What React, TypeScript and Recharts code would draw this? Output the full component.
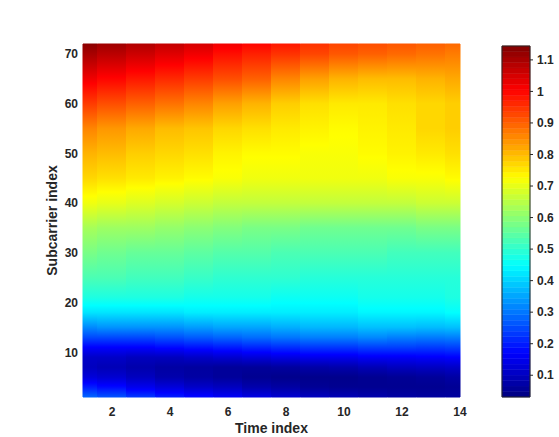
import React from 'react';
import { ComposedChart, XAxis, YAxis, ReferenceArea, Label } from 'recharts';

// Time index (x) and subcarrier rows (y) at which values were read
const timeIndex = [1, 2, 3, 4, 5, 6, 7, 8, 9, 10, 11, 12, 13, 14];
const subcarriers = [1, 3, 5, 7, 9, 11, 13, 15, 18, 21, 25, 30, 35, 40, 45, 50, 55, 60, 65, 70, 72];

// Values per time index, listed bottom (subcarrier 1) to top (subcarrier 72)
const t1 = [0.28, 0.2, 0.13, 0.1, 0.11, 0.17, 0.25, 0.32, 0.42, 0.48, 0.53, 0.58, 0.63, 0.71, 0.77, 0.81, 0.86, 0.94, 1.02, 1.1, 1.13];
const t2 = [0.26, 0.18, 0.12, 0.09, 0.11, 0.17, 0.25, 0.33, 0.42, 0.48, 0.53, 0.57, 0.62, 0.7, 0.76, 0.8, 0.84, 0.92, 1.0, 1.08, 1.11];
const t3 = [0.23, 0.15, 0.1, 0.08, 0.1, 0.17, 0.25, 0.33, 0.42, 0.48, 0.52, 0.56, 0.62, 0.69, 0.75, 0.78, 0.82, 0.9, 0.98, 1.06, 1.09];
const t4 = [0.2, 0.13, 0.08, 0.07, 0.1, 0.18, 0.26, 0.33, 0.42, 0.48, 0.52, 0.56, 0.61, 0.68, 0.74, 0.77, 0.8, 0.88, 0.96, 1.04, 1.07];
const t5 = [0.18, 0.11, 0.07, 0.065, 0.11, 0.19, 0.27, 0.34, 0.43, 0.47, 0.51, 0.55, 0.6, 0.67, 0.73, 0.76, 0.79, 0.86, 0.94, 1.02, 1.05];
const t6 = [0.16, 0.1, 0.06, 0.06, 0.12, 0.2, 0.28, 0.35, 0.43, 0.47, 0.5, 0.54, 0.59, 0.66, 0.72, 0.74, 0.77, 0.83, 0.92, 0.99, 1.02];
const t7 = [0.14, 0.08, 0.05, 0.06, 0.13, 0.21, 0.29, 0.35, 0.43, 0.47, 0.5, 0.54, 0.58, 0.66, 0.71, 0.73, 0.76, 0.81, 0.9, 0.97, 1.0];
const t8 = [0.12, 0.07, 0.045, 0.065, 0.14, 0.22, 0.3, 0.36, 0.43, 0.46, 0.5, 0.53, 0.58, 0.66, 0.71, 0.73, 0.75, 0.78, 0.86, 0.95, 0.98];
const t9 = [0.1, 0.055, 0.045, 0.075, 0.15, 0.23, 0.31, 0.37, 0.43, 0.46, 0.49, 0.53, 0.57, 0.66, 0.71, 0.72, 0.74, 0.76, 0.83, 0.93, 0.95];
const t10 = [0.09, 0.05, 0.045, 0.08, 0.15, 0.23, 0.31, 0.37, 0.43, 0.46, 0.49, 0.53, 0.57, 0.66, 0.71, 0.72, 0.73, 0.75, 0.81, 0.91, 0.93];
const t11 = [0.08, 0.05, 0.05, 0.09, 0.16, 0.24, 0.32, 0.38, 0.44, 0.47, 0.49, 0.53, 0.57, 0.66, 0.71, 0.73, 0.74, 0.75, 0.8, 0.9, 0.92];
const t12 = [0.07, 0.05, 0.055, 0.1, 0.16, 0.24, 0.31, 0.38, 0.44, 0.47, 0.49, 0.52, 0.57, 0.66, 0.72, 0.74, 0.75, 0.76, 0.8, 0.89, 0.91];
const t13 = [0.065, 0.05, 0.06, 0.105, 0.165, 0.235, 0.305, 0.375, 0.44, 0.47, 0.49, 0.52, 0.58, 0.67, 0.72, 0.75, 0.77, 0.77, 0.81, 0.88, 0.9];
const t14 = [0.065, 0.055, 0.07, 0.11, 0.17, 0.24, 0.31, 0.38, 0.45, 0.48, 0.49, 0.52, 0.58, 0.67, 0.73, 0.76, 0.78, 0.78, 0.82, 0.87, 0.89];
const columns = [t1, t2, t3, t4, t5, t6, t7, t8, t9, t10, t11, t12, t13, t14];

// Ticks
const xTicks = [2, 4, 6, 8, 10, 12, 14];
const yTicks = [10, 20, 30, 40, 50, 60, 70];
const cbTicks = [0.1, 0.2, 0.3, 0.4, 0.5, 0.6, 0.7, 0.8, 0.9, 1, 1.1];

// Color limits
const cMin = 0.031;
const cMax = 1.144;
const levels = 64;

const X_MIN = 1, X_MAX = 14, Y_MIN = 1, Y_MAX = 72;

const clamp = (a: number) => Math.max(0, Math.min(1, a));
const norm = (val: number) => clamp((val - cMin) / (cMax - cMin));
const jet = (v: number) => {
  const r = clamp(Math.min(4 * v - 1.5, -4 * v + 4.5));
  const g = clamp(Math.min(4 * v - 0.5, -4 * v + 3.5));
  const b = clamp(Math.min(4 * v + 0.5, -4 * v + 2.5));
  return `rgb(${Math.round(r * 255)},${Math.round(g * 255)},${Math.round(b * 255)})`;
};

const breaks = [0.125, 0.375, 0.625, 0.875];
function gradientStops(col: number[]) {
  const pts = subcarriers.map((s, i) => ({ s, v: norm(col[i]) }));
  const out: { s: number; v: number }[] = [];
  for (let i = 0; i < pts.length; i++) {
    out.push(pts[i]);
    if (i < pts.length - 1) {
      const a = pts[i], b = pts[i + 1];
      for (const bp of breaks) {
        if ((bp - a.v) * (bp - b.v) < 0) {
          out.push({ s: a.s + ((bp - a.v) / (b.v - a.v)) * (b.s - a.s), v: bp });
        }
      }
    }
  }
  out.sort((p, q) => q.s - p.s);
  return out.map((p) => ({ offset: (Y_MAX - p.s) / (Y_MAX - Y_MIN), color: jet(p.v) }));
}

const chartData = timeIndex.map((t) => ({ t }));
const bands = Array.from({ length: levels }, (_, k) => ({
  y1: cMin + (k * (cMax - cMin)) / levels,
  y2: cMin + ((k + 1) * (cMax - cMin)) / levels,
  color: jet((k + 0.5) / levels),
}));

const font = '"Liberation Sans", Arial, Helvetica, sans-serif';
const tickStyle = { fill: '#262626', fontSize: 12, fontWeight: 'bold' as const, fontFamily: font };

export default function App() {
  return (
    <div style={{ position: 'absolute', left: 0, top: 0, width: 559, height: 437, background: '#fff' }}>
      <div style={{ position: 'absolute', left: 0, top: 0 }}>
        <ComposedChart width={559} height={437} data={chartData} margin={{ top: 44, right: 99, bottom: 0, left: 0 }}>
          <defs>
            {columns.map((col, i) => (
              <linearGradient key={i} id={`col${i}`} x1="0" y1="0" x2="0" y2="1">
                {gradientStops(col).map((st, j) => (
                  <stop key={j} offset={st.offset} stopColor={st.color} />
                ))}
              </linearGradient>
            ))}
          </defs>
          <XAxis
            dataKey="t"
            type="number"
            domain={[X_MIN, X_MAX]}
            ticks={xTicks}
            height={40}
            tickLine={false}
            axisLine={false}
            tickSize={8}
            tickMargin={2}
            tick={tickStyle}
            allowDataOverflow
          >
            <Label value="Time index" position="insideBottom" offset={4} fill="#262626" fontSize={14} fontWeight="bold" fontFamily={font} />
          </XAxis>
          <YAxis
            type="number"
            domain={[Y_MIN, Y_MAX]}
            ticks={yTicks}
            width={83}
            tickLine={false}
            axisLine={false}
            tickSize={3}
            tickMargin={2}
            tick={tickStyle}
            allowDataOverflow
          >
            <Label
              value="Subcarrier index"
              angle={-90}
              position="insideLeft"
              offset={52}
              fill="#262626"
              fontSize={14}
              fontWeight="bold"
              fontFamily={font}
              style={{ textAnchor: 'middle' }}
            />
          </YAxis>
          {timeIndex.map((t, i) => (
            <ReferenceArea
              key={t}
              x1={Math.max(X_MIN, t - 0.5)}
              x2={Math.min(X_MAX, t + 0.5)}
              y1={Y_MIN}
              y2={Y_MAX}
              fill={`url(#col${i})`}
              fillOpacity={1}
              stroke={`url(#col${i})`}
              strokeWidth={1}
              ifOverflow="visible"
            />
          ))}
        </ComposedChart>
      </div>
      <div style={{ position: 'absolute', left: 0, top: 0 }}>
        <ComposedChart width={559} height={437} data={chartData} margin={{ top: 46, right: 0, bottom: 40, left: 502 }}>
          <XAxis dataKey="t" type="number" domain={[0, 1]} hide />
          <YAxis
            orientation="right"
            type="number"
            domain={[cMin, cMax]}
            ticks={cbTicks}
            width={29}
            tickLine={{ stroke: '#262626' }}
            axisLine={false}
            tickSize={3}
            tickMargin={4}
            tick={tickStyle}
            tickFormatter={(v: number) => String(v)}
            allowDataOverflow
          />
          {bands.map((b, k) => (
            <ReferenceArea
              key={k}
              y1={b.y1}
              y2={b.y2}
              fill={b.color}
              fillOpacity={1}
              stroke={b.color}
              strokeWidth={0.5}
              ifOverflow="visible"
            />
          ))}
          <ReferenceArea y1={cMin} y2={cMax} fill="none" fillOpacity={0} stroke="#262626" strokeWidth={1} ifOverflow="visible" />
        </ComposedChart>
      </div>
    </div>
  );
}
